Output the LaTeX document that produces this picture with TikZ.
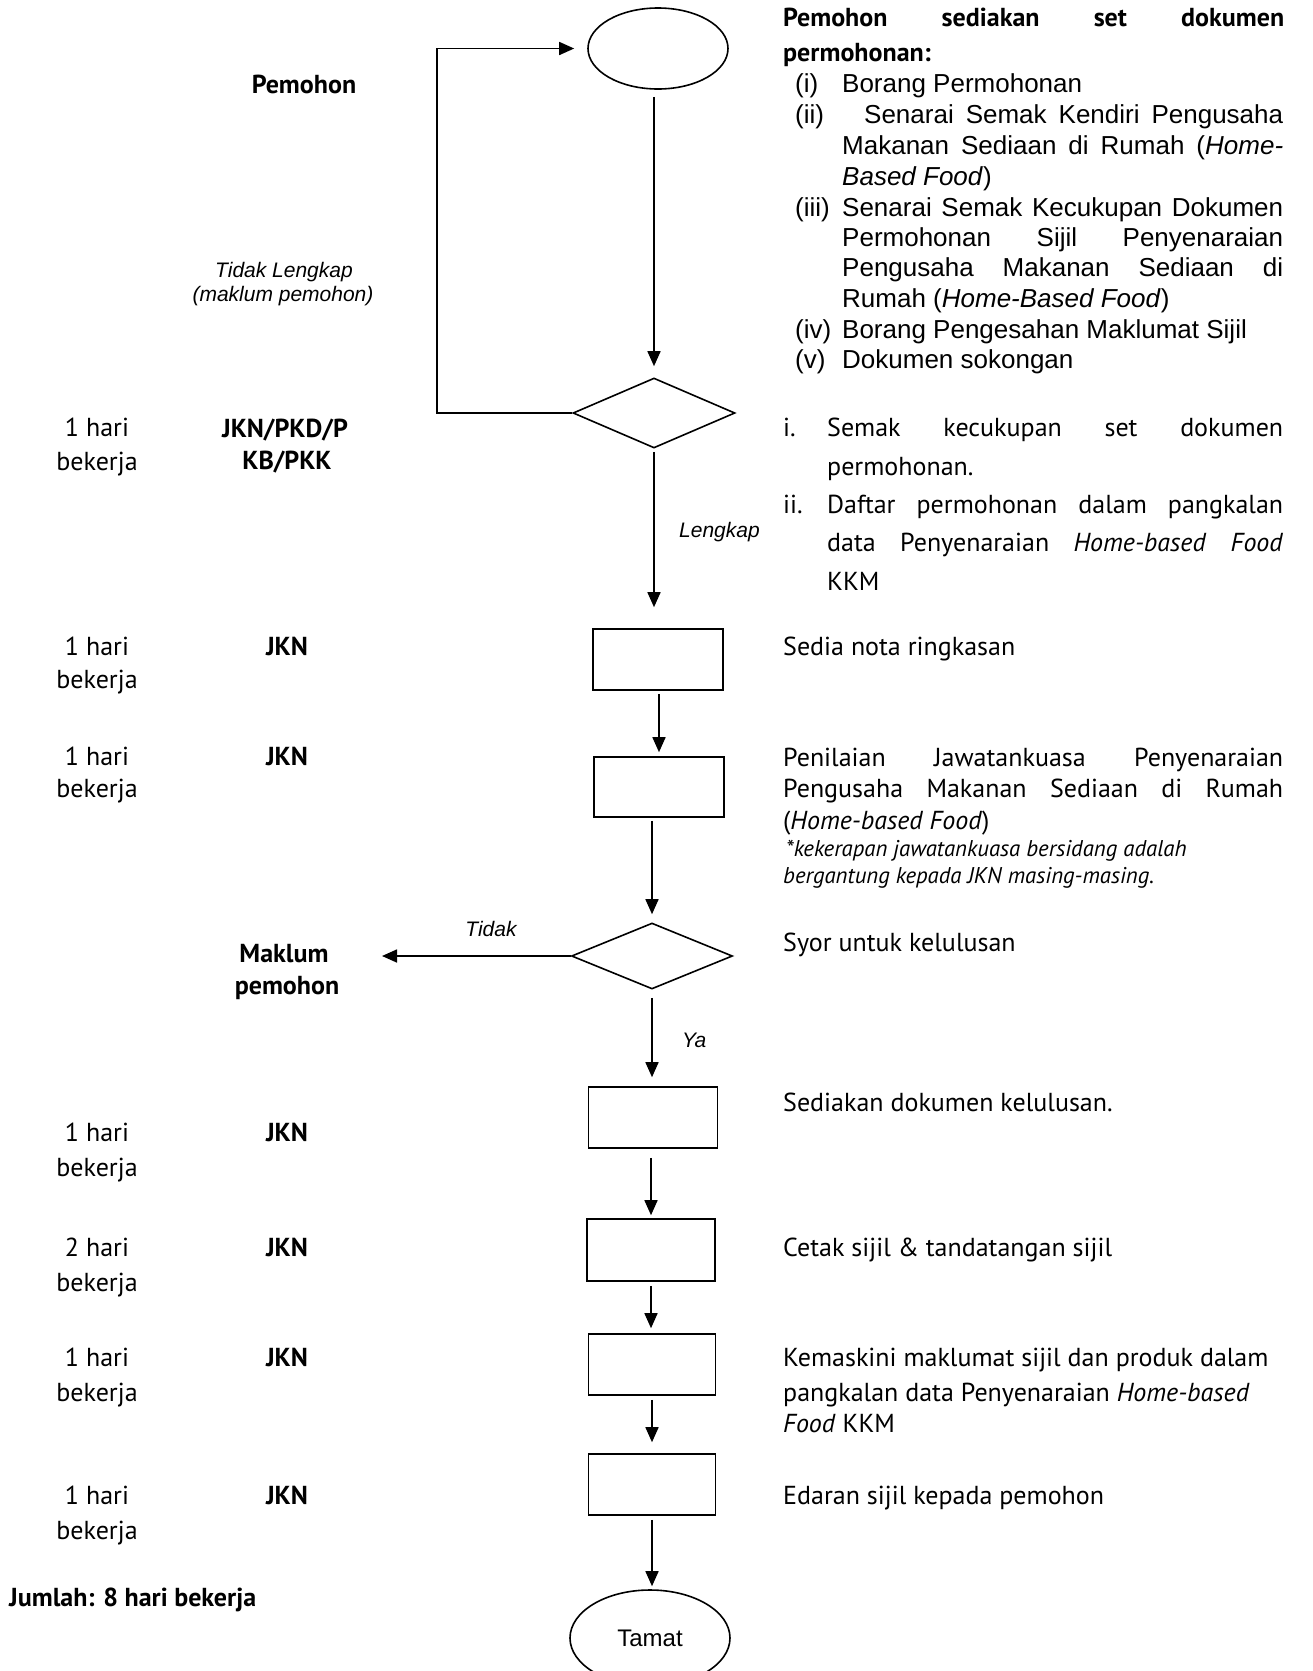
\documentclass[tikz,border=0pt]{standalone}
\usepackage{fontspec}
\setmainfont{PT Sans}
\newfontfamily\arialf{Liberation Sans}
\usetikzlibrary{shapes.geometric,arrows.meta}
\newcommand{\jusline}[2]{\makebox[#1][s]{#2}}
\begin{document}
\begin{tikzpicture}[x=1pt,y=-1pt,
  shp/.style={draw, line width=1.6pt, inner sep=0pt},
  arr/.style={line width=1.6pt, -{Triangle[length=15pt,width=13pt]}},
  tw/.style={inner sep=0pt, anchor=west, font=\fontsize{26}{30}\selectfont, text height=18pt, text depth=0pt},
  twc/.style={tw, anchor=center},
  twb/.style={tw, font=\bfseries\fontsize{26}{30}\selectfont},
  twbc/.style={twb, anchor=center},
  twi/.style={tw, font=\itshape\fontsize{22.8}{26}\selectfont, text height=16pt},
  ar/.style={inner sep=0pt, anchor=west, font=\arialf\fontsize{26}{30}\selectfont, text height=19pt, text depth=0pt},
  lab/.style={inner sep=0pt, anchor=center, font=\arialf\itshape\fontsize{21}{24}\selectfont, text height=15pt, text depth=0pt},
  labw/.style={lab, anchor=west}
]
\useasboundingbox (0,0) rectangle (1313,1671);

% ---------- flow shapes ----------
\node[shp, ellipse, minimum width=140pt, minimum height=81pt] (e1) at (658,48.5) {};
\node[shp, diamond, minimum width=162pt, minimum height=70pt] (d1) at (654,413) {};
\node[shp, rectangle, minimum width=130pt, minimum height=61pt] (b1) at (658,659.5) {};
\node[shp, rectangle, minimum width=130pt, minimum height=60pt] (b2) at (659,787) {};
\node[shp, diamond, minimum width=161pt, minimum height=66pt] (d2) at (652,956) {};
\node[shp, rectangle, minimum width=129pt, minimum height=61pt] (b3) at (653,1117.5) {};
\node[shp, rectangle, minimum width=128pt, minimum height=62pt] (b4) at (651,1250) {};
\node[shp, rectangle, minimum width=127pt, minimum height=61pt] (b5) at (652,1364.5) {};
\node[shp, rectangle, minimum width=127pt, minimum height=61pt] (b6) at (652,1484.5) {};
\begin{scope}
\clip (0,0) rectangle (1313,1671);
\node[shp, ellipse, minimum width=160pt, minimum height=96pt, font=\arialf\fontsize{24}{28}\selectfont] (tm) at (650,1638) {Tamat};
\end{scope}

% ---------- connectors ----------
\draw[arr, shorten <=7pt, shorten >=11pt] (d1.north |- e1.south) -- (d1.north);
\draw[arr, shorten >=13pt] (d1.west) -- ++(-135,0) |- (e1.west);
\draw[arr, shorten <=3pt, shorten >=21pt] (d1.south) -- (d1.south |- b1.north);
\draw[arr, shorten <=3pt, shorten >=4pt] (b2.north |- b1.south) -- (b2.north);
\draw[arr, shorten <=3pt, shorten >=8pt] (d2.north |- b2.south) -- (d2.north);
\coordinate (mkend) at (382,959);
\draw[arr] (d2.west) -- (mkend |- d2.west);
\draw[arr, shorten <=8pt, shorten >=9pt] (d2.south) -- (d2.south |- b3.north);
\draw[arr, shorten <=9pt, shorten >=3pt] (b4.north |- b3.south) -- (b4.north);
\draw[arr, shorten <=4pt, shorten >=5pt] (b4.south) -- (b4.south |- b5.north);
\draw[arr, shorten <=4pt, shorten >=11pt] (b5.south) -- (b5.south |- b6.north);
\draw[arr, shorten <=4pt, shorten >=3pt] (b6.south) -- (b6.south |- tm.north);

% ---------- connector labels ----------
\node[lab] (ltl1) at (284,270) {Tidak Lengkap};
\node[lab] (ltl2) at (283,294) {(maklum pemohon)};
\node[labw] (llk) at (679,530) {Lengkap};
\node[lab] (ltd) at (491,929) {Tidak};
\node[labw] (lya) at (682,1040) {Ya};

% ---------- left columns ----------
\node[twbc] (pem) at (304,84) {Pemohon};
\node[twc] (h1a) at (97,427) {1 hari};
\node[twc] (h1b) at (97,461) {bekerja};
\node[twbc] (w1a) at (285,428) {JKN/PKD/P};
\node[twbc] (w1b) at (287,460) {KB/PKK};
\node[twc] (h2a) at (97,646) {1 hari};
\node[twc] (h2b) at (97,679) {bekerja};
\node[twbc] (w2) at (287,646) {JKN};
\node[twc] (h3a) at (97,756) {1 hari};
\node[twc] (h3b) at (97,788) {bekerja};
\node[twbc] (w3) at (287,756) {JKN};
\node[twbc] (mk1) at (284,953) {Maklum};
\node[twbc] (mk2) at (287,985) {pemohon};
\node[twc] (h4a) at (97,1132) {1 hari};
\node[twc] (h4b) at (97,1167) {bekerja};
\node[twbc] (w4) at (287,1132) {JKN};
\node[twc] (h5a) at (97,1247) {2 hari};
\node[twc] (h5b) at (97,1282) {bekerja};
\node[twbc] (w5) at (287,1247) {JKN};
\node[twc] (h6a) at (97,1357) {1 hari};
\node[twc] (h6b) at (97,1392) {bekerja};
\node[twbc] (w6) at (287,1357) {JKN};
\node[twc] (h7a) at (97,1495) {1 hari};
\node[twc] (h7b) at (97,1530) {bekerja};
\node[twbc] (w7) at (287,1495) {JKN};
\node[twb] (jml) at (9,1597) {Jumlah: 8 hari bekerja};

% ---------- right column ----------
\node[twb] (r1) at (783,17) {\jusline{501pt}{Pemohon sediakan set dokumen}};
\node[twb] (r2) at (783,52) {permohonan:};
\node[ar] (l1) at (795,83) {\makebox[47pt][l]{(i)}Borang Permohonan};
\node[ar] (l2) at (795,114) {\makebox[69pt][l]{(ii)}\jusline{419pt}{Senarai Semak Kendiri Pengusaha}};
\node[ar] (l3) at (842,145) {\jusline{441pt}{Makanan Sediaan di Rumah (\textit{Home-}}};
\node[ar] (l4) at (842,176) {\textit{Based Food})};
\node[ar] (l5) at (795,207) {\makebox[47pt][l]{(iii)}\jusline{441pt}{Senarai Semak Kecukupan Dokumen}};
\node[ar] (l6) at (842,237) {\jusline{441pt}{Permohonan Sijil Penyenaraian}};
\node[ar] (l7) at (842,267) {\jusline{441pt}{Pengusaha Makanan Sediaan di}};
\node[ar] (l8) at (842,298) {Rumah (\textit{Home-Based Food})};
\node[ar] (l9) at (795,329) {\makebox[47pt][l]{(iv)}Borang Pengesahan Maklumat Sijil};
\node[ar] (l10) at (795,359) {\makebox[47pt][l]{(v)}Dokumen sokongan};

\node[tw] (s1) at (783,427) {\makebox[44pt][l]{i.}\jusline{456pt}{Semak kecukupan set dokumen}};
\node[tw] (s2) at (827,466) {permohonan.};
\node[tw] (s3) at (783,504) {\makebox[44pt][l]{ii.}\jusline{456pt}{Daftar permohonan dalam pangkalan}};
\node[tw] (s4) at (827,542) {\jusline{456pt}{data Penyenaraian \textit{Home-based} \textit{Food}}};
\node[tw] (s5) at (827,581) {KKM};

\node[tw] (t1) at (783,646) {Sedia nota ringkasan};

\node[tw] (p1) at (783,757) {\jusline{500pt}{Penilaian Jawatankuasa Penyenaraian}};
\node[tw] (p2) at (783,788) {\jusline{500pt}{Pengusaha Makanan Sediaan di Rumah}};
\node[tw] (p3) at (783,820) {(\textit{Home-based Food})};
\node[twi] (p4) at (786,848) {*kekerapan jawatankuasa bersidang adalah};
\node[twi] (p5) at (783,875) {bergantung kepada JKN masing-masing.};

\node[tw] (t2) at (783,942) {Syor untuk kelulusan};
\node[tw] (t3) at (783,1102) {Sediakan dokumen kelulusan.};
\node[tw] (t4) at (783,1247) {Cetak sijil \& tandatangan sijil};
\node[tw] (k1) at (783,1357) {Kemaskini maklumat sijil dan produk dalam};
\node[tw] (k2) at (783,1392) {pangkalan data Penyenaraian \textit{Home-based}};
\node[tw] (k3) at (783,1423) {\textit{Food} KKM};
\node[tw] (t5) at (783,1495) {Edaran sijil kepada pemohon};
\end{tikzpicture}
\end{document}
